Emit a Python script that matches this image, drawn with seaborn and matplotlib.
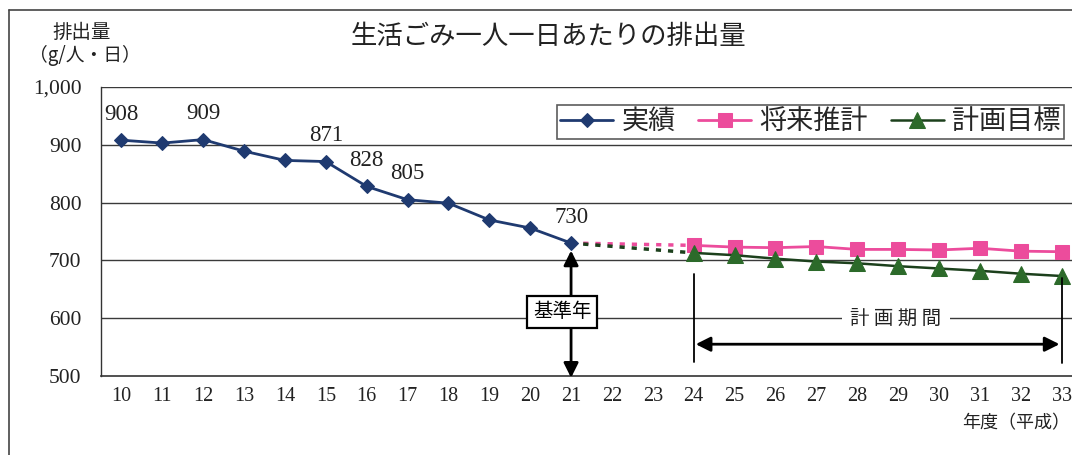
import matplotlib
matplotlib.use('Agg')
import matplotlib.pyplot as plt
import pandas as pd
import seaborn as sns
from matplotlib.lines import Line2D
from matplotlib.ticker import FixedLocator

# ---- data ----
all_years = [10, 11, 12, 13, 14, 15, 16, 17, 18, 19, 20, 21,
             22, 23, 24, 25, 26, 27, 28, 29, 30, 31, 32, 33]
actual_years = [10, 11, 12, 13, 14, 15, 16, 17, 18, 19, 20, 21]
actual_values = [908, 903, 909, 889, 873, 871, 828, 805, 799, 770, 756, 730]
future_years = [24, 25, 26, 27, 28, 29, 30, 31, 32, 33]
forecast_values = [726, 723, 722, 724, 719, 719, 718, 721, 716, 715]
target_values = [713, 709, 703, 698, 695, 690, 686, 682, 677, 673]
labeled_years = [10, 12, 15, 16, 17, 21]
labeled_values = [908, 909, 871, 828, 805, 730]
y_ticks = [500, 600, 700, 800, 900, 1000]
y_tick_labels = ['500', '600', '700', '800', '900', '1,000']
series_names = ['実績', '将来推計', '計画目標']
base_year = 21
plan_start, plan_end = 24, 33

sns.set_style('white')
plt.rcParams['font.family'] = ['Noto Sans CJK JP', 'DejaVu Sans']
SERIF = ['Liberation Serif', 'DejaVu Serif']

NAVY = '#1f3a70'
PINK = '#ec4c9c'
GREEN_M = '#2c6a2a'
GREEN_L = '#1c401c'

fig = plt.figure(figsize=(10.72, 4.55), dpi=100)
W, H = 1072, 455
ax = fig.add_axes([101 / W, (H - 376) / H, (1082 - 101) / W, (376 - 87) / H])

df_a = pd.DataFrame({'year': actual_years, 'value': actual_values})
df_f = pd.DataFrame({'year': future_years, 'value': forecast_values})
df_t = pd.DataFrame({'year': future_years, 'value': target_values})

# connectors from base year to plan start (dotted)
ax.plot([base_year, plan_start], [actual_values[-1], forecast_values[0]],
        color=PINK, lw=2.5, ls=(0, (1.5, 2.0)), zorder=2)
ax.plot([base_year, plan_start], [actual_values[-1], target_values[0]],
        color=GREEN_L, lw=2.5, ls=(0, (1.5, 2.0)), zorder=2)

sns.lineplot(data=df_a, x='year', y='value', ax=ax, color=NAVY, lw=2.0,
             marker='D', markersize=7, markerfacecolor=NAVY,
             markeredgecolor=NAVY, label=series_names[0], zorder=4)
sns.lineplot(data=df_f, x='year', y='value', ax=ax, color=PINK, lw=2.0,
             marker='s', markersize=10, markerfacecolor=PINK,
             markeredgecolor=PINK, label=series_names[1], zorder=3)
sns.lineplot(data=df_t, x='year', y='value', ax=ax, color=GREEN_L, lw=1.8,
             marker='^', markersize=11, markerfacecolor=GREEN_M,
             markeredgecolor=GREEN_M, label=series_names[2], zorder=4)

ax.set_xlim(9.5, 33.5)
ax.set_ylim(500, 1000)
ax.set_xlabel('')
ax.set_ylabel('')

# grid and spines
ax.yaxis.set_major_locator(FixedLocator(y_ticks))
ax.set_yticklabels(y_tick_labels, fontfamily=SERIF, fontsize=15.5,
                   color='#222222')
for v in y_ticks[1:]:
    ax.axhline(v, color='#3a3a3a', lw=1.0, zorder=1)
for s in ['top', 'right']:
    ax.spines[s].set_visible(False)
ax.spines['left'].set_color('#333333')
ax.spines['bottom'].set_color('#333333')
ax.spines['left'].set_linewidth(1.0)
ax.spines['bottom'].set_linewidth(1.2)

ax.set_xticks(all_years)
ax.set_xticklabels([str(y) for y in all_years], fontfamily=SERIF,
                   fontsize=14.5, color='#222222')
ax.set_xticks([y + 0.5 for y in all_years], minor=True)
ax.tick_params(axis='x', which='major', length=0, pad=8)
ax.tick_params(axis='x', which='minor', length=5, direction='in', color='#333333')
ax.tick_params(axis='y', length=0, pad=14)

# data labels
for yr, val in zip(labeled_years, labeled_values):
    ax.annotate(str(val), (yr, val), xytext=(0, 26), textcoords='offset pixels',
                ha='center', va='center', fontsize=16.5, fontfamily=SERIF,
                color='#222222')

# base-year arrow and box
ax.annotate('', xy=(base_year, 717), xytext=(base_year, 497),
            arrowprops=dict(arrowstyle='<|-|>', color='black', lw=2,
                            mutation_scale=22, shrinkA=0, shrinkB=0), zorder=5)
ax.text(base_year - 0.22, 611, '基準年', ha='center', va='center', fontsize=14,
        color='black', zorder=6,
        bbox=dict(boxstyle='square,pad=0.3', fc='white', ec='black', lw=1.6))

# plan period
ax.plot([plan_start, plan_start], [677, 525], color='black', lw=1.3, zorder=5)
ax.plot([plan_end, plan_end], [670, 522], color='black', lw=1.3, zorder=5)
ax.annotate('', xy=(plan_start + 0.05, 555), xytext=(plan_end - 0.05, 555),
            arrowprops=dict(arrowstyle='<|-|>', color='black', lw=2,
                            mutation_scale=22, shrinkA=0, shrinkB=0), zorder=5)
ax.text(28.95, 600, '計 画 期 間', ha='center', va='center', fontsize=14,
        color='#222222', zorder=5,
        bbox=dict(boxstyle='square,pad=0.45', fc='white', ec='none'))

# legend
leg = ax.legend(loc='upper left', bbox_to_anchor=(557 / W, 1 - 105 / H),
                bbox_transform=fig.transFigure, ncol=3, fontsize=19.5,
                frameon=True, fancybox=False, edgecolor='#333333',
                handlelength=1.95, handletextpad=0.3, columnspacing=0.85,
                borderpad=0.12, borderaxespad=0)
leg.get_frame().set_linewidth(1.2)

# titles and labels
fig.text(548 / W, 1 - 36 / H, '生活ごみ一人一日あたりの排出量', ha='center',
         va='center', fontsize=19, color='#222222')
fig.text(82 / W, 1 - 33 / H, '排出量', ha='center', va='center', fontsize=14,
         color='#222222')
fig.text(85 / W, 1 - 55 / H, '（g/人・日）', ha='center', va='center',
         fontsize=13.5, color='#222222')
fig.text(1070 / W, 1 - 423 / H, '年度（平成）', ha='right', va='center',
         fontsize=13, color='#222222')

# outer frame
fig.add_artist(Line2D([9 / W, 9 / W], [0, 1 - 10 / H], transform=fig.transFigure,
                      color='#444444', lw=1.2))
fig.add_artist(Line2D([9 / W, 1], [1 - 10 / H, 1 - 10 / H],
                      transform=fig.transFigure, color='#444444', lw=1.2))

fig.savefig('out.png', dpi=100)
